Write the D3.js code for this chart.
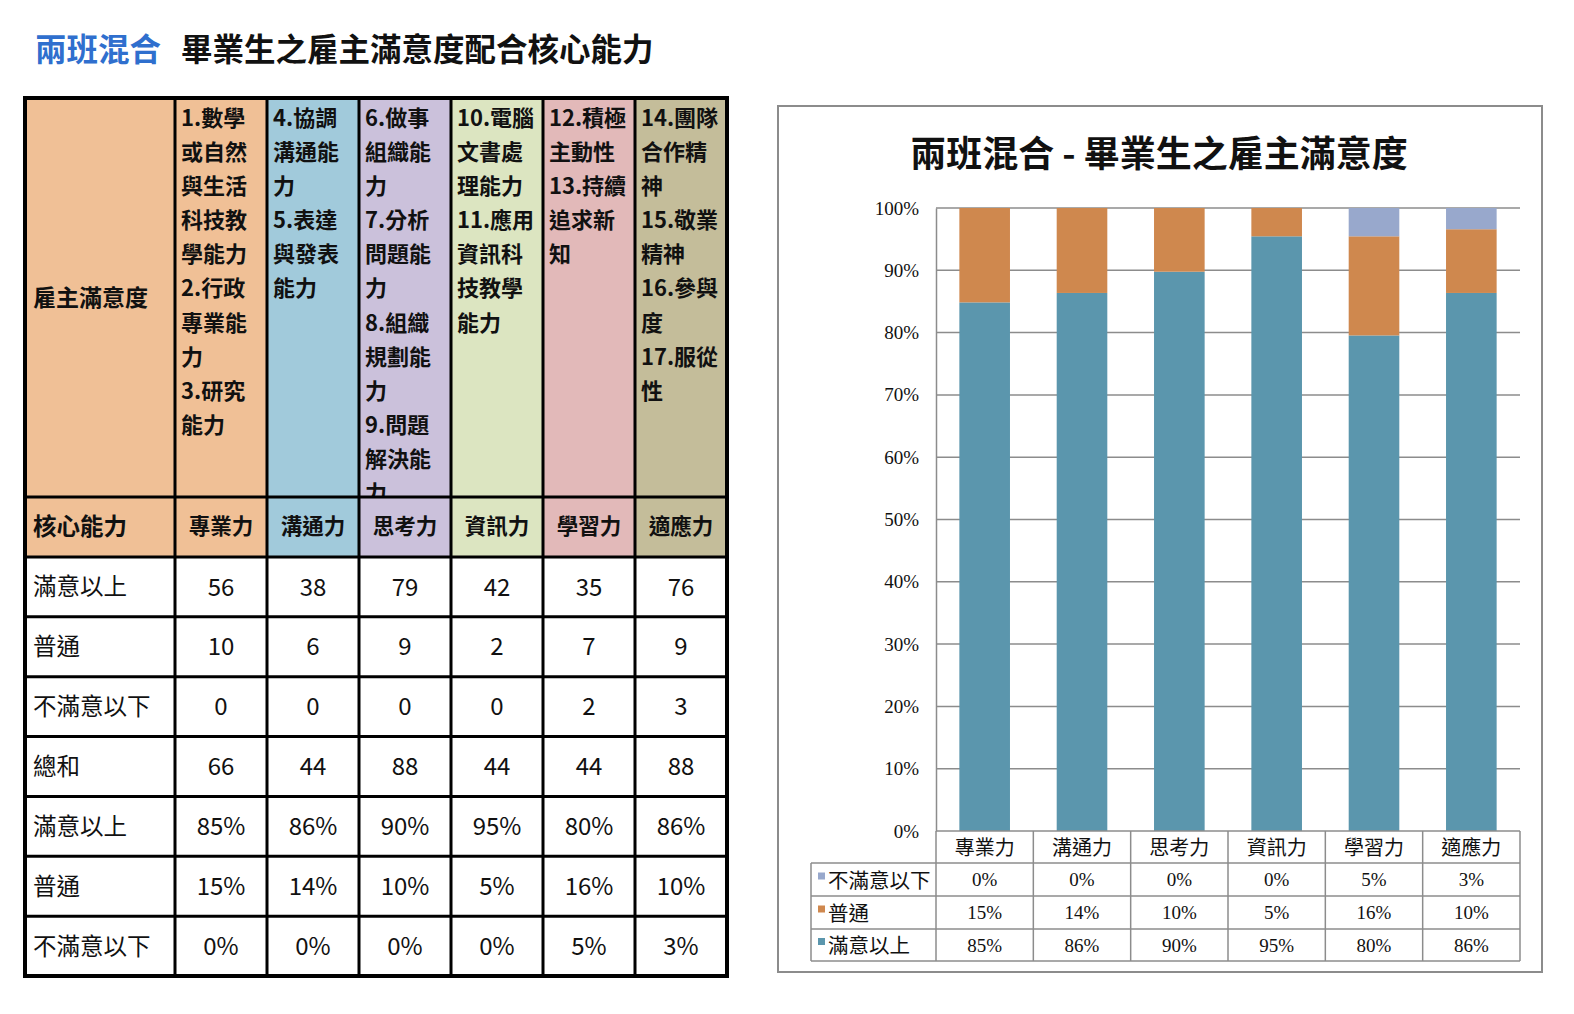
<!DOCTYPE html>
<html><head><meta charset="utf-8">
<script src="https://cdn.jsdelivr.net/npm/d3@7"></script>
<style>body{margin:0;background:#fff}svg{display:block}</style>
</head><body>
<svg id="c" width="1574" height="1014"></svg>
<script>
const categories = ["專業力","溝通力","思考力","資訊力","學習力","適應力"];
const satisfied   = [56,38,79,42,35,76];
const neutral     = [10,6,9,2,7,9];
const unsatisfied = [0,0,0,0,2,3];
const totals      = [66,44,88,44,44,88];
const pctSatisfied   = [85,86,90,95,80,86];
const pctNeutral     = [15,14,10,5,16,10];
const pctUnsatisfied = [0,0,0,0,5,3];
const headerLines = [
  ["1.數學","或自然","與生活","科技教","學能力","2.行政","專業能","力","3.研究","能力"],
  ["4.協調","溝通能","力","5.表達","與發表","能力"],
  ["6.做事","組織能","力","7.分析","問題能","力","8.組織","規劃能","力","9.問題","解決能","力"],
  ["10.電腦","文書處","理能力","11.應用","資訊科","技教學","能力"],
  ["12.積極","主動性","13.持續","追求新","知"],
  ["14.團隊","合作精","神","15.敬業","精神","16.參與","度","17.服從","性"]
];
const rowLabels = ["滿意以上","普通","不滿意以下","總和","滿意以上","普通","不滿意以下"];
const seriesNames = ["滿意以上","普通","不滿意以下"];
const yTicks = [0,10,20,30,40,50,60,70,80,90,100];

const colColors = ["#f0c096","#a1cadb","#cbc1db","#dce5c1","#e2b9b9","#c4bd9a"];
const seriesColors = {"滿意以上":"#5b96ad","普通":"#cf884e","不滿意以下":"#98a8cc"};
const sans = "'Noto Sans CJK TC','Noto Sans',sans-serif";
const serif = "'Liberation Serif','DejaVu Serif',serif";

const svg = d3.select("#c");

// ---------- page title ----------
const tt = svg.append("text").attr("x",35).attr("y",61)
  .attr("font-family",sans).attr("font-weight",700).attr("font-size",31.5);
tt.append("tspan").attr("fill","#2f6fce").text("兩班混合");
tt.append("tspan").attr("fill","#111").attr("dx",20).text("畢業生之雇主滿意度配合核心能力");

// ---------- left table ----------
const T = {x0:25, x1:727, labelW:150, yHead:98, yCore:497, yData:557, y1:976};
const colX = d3.scaleBand().domain(categories).range([T.x0+T.labelW, T.x1]);
const rowY = d3.scaleBand().domain(d3.range(rowLabels.length)).range([T.yData, T.y1]);
const tbl = svg.append("g");

tbl.append("rect").attr("x",T.x0).attr("y",T.yHead).attr("width",T.labelW).attr("height",T.yData-T.yHead).attr("fill",colColors[0]);
categories.forEach((c,i)=>{
  tbl.append("rect").attr("x",colX(c)).attr("y",T.yHead).attr("width",colX.bandwidth()).attr("height",T.yData-T.yHead).attr("fill",colColors[i]);
});
svg.append("defs").append("clipPath").attr("id","hclip").append("rect")
  .attr("x",T.x0).attr("y",T.yHead).attr("width",T.x1-T.x0).attr("height",T.yCore-T.yHead);
const hg = tbl.append("g").attr("clip-path","url(#hclip)");
categories.forEach((c,i)=>{
  headerLines[i].forEach((ln,j)=>{
    hg.append("text").attr("x",colX(c)+6).attr("y",118+j*34.1).attr("dy","0.36em")
      .attr("font-family",sans).attr("font-weight",700).attr("font-size",22).attr("fill","#111").text(ln);
  });
});
tbl.append("text").attr("x",33).attr("y",298).attr("dy","0.36em").attr("font-family",sans)
  .attr("font-weight",700).attr("font-size",23).attr("fill","#111").text("雇主滿意度");
tbl.append("text").attr("x",33).attr("y",527).attr("dy","0.36em").attr("font-family",sans)
  .attr("font-weight",700).attr("font-size",23.5).attr("fill","#111").text("核心能力");
categories.forEach(c=>{
  tbl.append("text").attr("x",colX(c)+colX.bandwidth()/2).attr("y",526).attr("dy","0.36em")
    .attr("text-anchor","middle").attr("font-family",sans).attr("font-weight",700).attr("font-size",21.5).attr("fill","#111").text(c);
});
const rowsData = [satisfied, neutral, unsatisfied, totals,
  pctSatisfied.map(v=>v+"%"), pctNeutral.map(v=>v+"%"), pctUnsatisfied.map(v=>v+"%")];
rowLabels.forEach((lab,r)=>{
  const cy = rowY(r)+rowY.bandwidth()/2;
  tbl.append("text").attr("x",33).attr("y",cy).attr("dy","0.36em").attr("font-family",sans)
    .attr("font-size",23.5).attr("fill","#111").text(lab);
  categories.forEach((c,i)=>{
    tbl.append("text").attr("x",colX(c)+colX.bandwidth()/2).attr("y",cy).attr("dy","0.36em")
      .attr("text-anchor","middle").attr("font-family",sans).attr("font-size",24).attr("fill","#111").text(rowsData[r][i]);
  });
});
const lineAttr = s => s.attr("stroke","#000").attr("stroke-width",3);
[T.yCore, T.yData, ...d3.range(1,rowLabels.length).map(r=>rowY(r))].forEach(y=>{
  lineAttr(tbl.append("line").attr("x1",T.x0).attr("x2",T.x1).attr("y1",y).attr("y2",y));
});
[T.x0+T.labelW, ...categories.slice(1).map(c=>colX(c))].forEach(x=>{
  lineAttr(tbl.append("line").attr("x1",x).attr("x2",x).attr("y1",T.yHead).attr("y2",T.y1));
});
tbl.append("rect").attr("x",T.x0).attr("y",T.yHead).attr("width",T.x1-T.x0).attr("height",T.y1-T.yHead)
  .attr("fill","none").attr("stroke","#000").attr("stroke-width",4);

// ---------- right chart ----------
const C = {bx:778, by:106, bw:764, bh:866, left:936, right:1520, top:208, bottom:831, legL:811};
const ch = svg.append("g");
ch.append("rect").attr("x",C.bx).attr("y",C.by).attr("width",C.bw).attr("height",C.bh)
  .attr("fill","#fff").attr("stroke","#8c8c8c").attr("stroke-width",2);
ch.append("text").attr("x",1159).attr("y",154).attr("dy","0.36em").attr("text-anchor","middle")
  .attr("font-family",sans).attr("font-weight",700).attr("font-size",36).attr("fill","#111")
  .text("兩班混合 - 畢業生之雇主滿意度");

const x = d3.scaleBand().domain(categories).range([C.left,C.right]).paddingInner(0.48).paddingOuter(0.24);
const xCell = d3.scaleBand().domain(categories).range([C.left,C.right]);
const y = d3.scaleLinear().domain([0,100]).range([C.bottom,C.top]);

ch.append("g").selectAll("line").data(yTicks.filter(t=>t>0)).join("line")
  .attr("x1",C.left).attr("x2",C.right).attr("y1",d=>y(d)).attr("y2",d=>y(d))
  .attr("stroke","#8c8c8c").attr("stroke-width",1.5);

const ya = ch.append("g").attr("transform",`translate(${C.left},0)`)
  .call(d3.axisLeft(y).tickValues(yTicks).tickFormat(d=>d+"%").tickSize(0).tickPadding(17));
ya.select(".domain").attr("stroke","#8c8c8c").attr("stroke-width",1.5);
ya.selectAll("text").attr("font-family",serif).attr("font-size",19).attr("fill","#111");

const rows = categories.map((c,i)=>({cat:c,
  "滿意以上": satisfied[i]/totals[i]*100,
  "普通": neutral[i]/totals[i]*100,
  "不滿意以下": unsatisfied[i]/totals[i]*100}));
const stack = d3.stack().keys(seriesNames)(rows);
ch.append("g").selectAll("g").data(stack).join("g").attr("fill",d=>seriesColors[d.key])
  .selectAll("rect").data(d=>d).join("rect")
  .attr("x",d=>x(d.data.cat)).attr("width",x.bandwidth())
  .attr("y",d=>y(d[1])).attr("height",d=>y(d[0])-y(d[1]));

const rowH = 33;
const tRows = [C.bottom+32, C.bottom+32+rowH, C.bottom+32+2*rowH, C.bottom+32+3*rowH-1];
const gl = s => s.attr("stroke","#8c8c8c").attr("stroke-width",1.5);
gl(ch.append("line").attr("x1",C.left).attr("x2",C.right).attr("y1",C.bottom).attr("y2",C.bottom));
tRows.forEach(yy=>gl(ch.append("line").attr("x1",C.legL).attr("x2",C.right).attr("y1",yy).attr("y2",yy)));
gl(ch.append("line").attr("x1",C.legL).attr("x2",C.legL).attr("y1",tRows[0]).attr("y2",tRows[3]));
[...categories.map(c=>xCell(c)), C.right].forEach(xx=>
  gl(ch.append("line").attr("x1",xx).attr("x2",xx).attr("y1",C.bottom).attr("y2",tRows[3])));
categories.forEach(c=>{
  ch.append("text").attr("x",xCell(c)+xCell.bandwidth()/2).attr("y",(C.bottom+tRows[0])/2+1).attr("dy","0.36em")
    .attr("text-anchor","middle").attr("font-family",sans).attr("font-size",20).attr("fill","#111").text(c);
});
const tableSeries = [["不滿意以下",pctUnsatisfied],["普通",pctNeutral],["滿意以上",pctSatisfied]];
tableSeries.forEach(([name,vals],r)=>{
  const cy = (tRows[r]+tRows[r+1])/2;
  ch.append("rect").attr("x",C.legL+7).attr("y",cy-7).attr("width",7).attr("height",7).attr("fill",seriesColors[name]);
  ch.append("text").attr("x",C.legL+17).attr("y",cy+1).attr("dy","0.36em").attr("font-family",sans)
    .attr("font-size",20.5).attr("fill","#111").text(name);
  categories.forEach((c,i)=>{
    ch.append("text").attr("x",xCell(c)+xCell.bandwidth()/2).attr("y",cy).attr("dy","0.36em")
      .attr("text-anchor","middle").attr("font-family",serif).attr("font-size",19).attr("fill","#111").text(vals[i]+"%");
  });
});
</script>
</body></html>
